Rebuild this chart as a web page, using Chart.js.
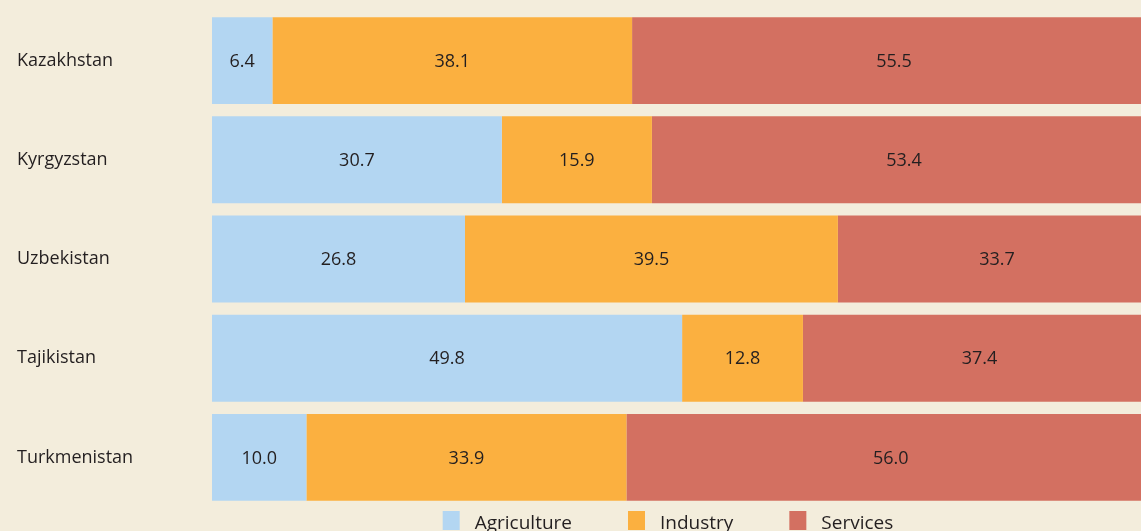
<!DOCTYPE html>
<html>
<head>
<meta charset="utf-8">
<script src="https://cdn.jsdelivr.net/npm/chart.js@4"></script>
<style>
  html, body { margin: 0; padding: 0; background: #f3eddc; overflow: hidden; }
  #wrap { width: 1362px; height: 540px; position: relative; }
</style>
</head>
<body>
<div id="wrap"><canvas id="chart"></canvas></div>
<script>
// Data
const countries = ["Kazakhstan", "Kyrgyzstan", "Uzbekistan", "Tajikistan", "Turkmenistan"]
const agriculture = [6.4, 30.7, 26.8, 49.8, 10.0]
const industry = [38.1, 15.9, 39.5, 12.8, 33.9]
const services = [55.5, 53.4, 33.7, 37.4, 56.0]

const textColor = "#231f20"
const fontFamily = "'Open Sans', sans-serif"

// Draw the value in the middle of each segment
const valueLabels = {
  id: "valueLabels",
  afterDatasetsDraw(chart) {
    const ctx = chart.ctx
    ctx.save()
    ctx.fillStyle = textColor
    ctx.font = "18px " + fontFamily
    ctx.textAlign = "center"
    ctx.textBaseline = "middle"
    chart.data.datasets.forEach((ds, i) => {
      const meta = chart.getDatasetMeta(i)
      meta.data.forEach((bar, j) => {
        const cx = (bar.x + bar.base) / 2
        ctx.fillText(ds.data[j].toFixed(1), cx, bar.y + 1)
      })
    })
    ctx.restore()
  },
}

// Legend under the bars, wider spacing than the built-in one
const bottomLegend = {
  id: "bottomLegend",
  afterDraw(chart) {
    const ctx = chart.ctx
    const boxW = 17
    const boxH = 19
    const textGap = 15
    const itemGap = 56
    ctx.save()
    ctx.font = "19px " + fontFamily
    ctx.textBaseline = "alphabetic"
    ctx.textAlign = "left"

    const items = chart.data.datasets.map((ds) => ({
      label: ds.label,
      color: ds.backgroundColor,
      width: ctx.measureText(ds.label).width,
    }))
    let total = 0
    items.forEach((it, i) => {
      total += boxW + textGap + it.width
      if (i < items.length - 1) total += itemGap
    })

    let x = chart.chartArea.left + 456 - total / 2
    const y = chart.chartArea.bottom + 4
    items.forEach((it) => {
      ctx.fillStyle = it.color
      ctx.fillRect(x, y, boxW, boxH)
      ctx.fillStyle = textColor
      ctx.fillText(it.label, x + boxW + textGap, y + 18)
      x += boxW + textGap + it.width + itemGap
    })
    ctx.restore()
  },
}

new Chart(document.getElementById("chart"), {
  type: "bar",
  data: {
    labels: countries,
    datasets: [
      { label: "Agriculture", data: agriculture, backgroundColor: "#b3d6f2" },
      { label: "Industry", data: industry, backgroundColor: "#fbb040" },
      { label: "Services", data: services, backgroundColor: "#d37061" },
    ],
  },
  options: {
    indexAxis: "y",
    responsive: true,
    maintainAspectRatio: false,
    animation: false,
    datasets: {
      bar: { barPercentage: 0.876, categoryPercentage: 1, borderWidth: 0 },
    },
    layout: { padding: { left: 17, right: 206, top: 11, bottom: 33 } },
    scales: {
      x: {
        stacked: true,
        min: 0,
        max: 100,
        display: false,
      },
      y: {
        stacked: true,
        grid: { display: false },
        border: { display: false },
        ticks: {
          color: textColor,
          font: { family: fontFamily, size: 18 },
          crossAlign: "far",
          padding: 0,
        },
        afterFit(scale) {
          scale.width = 195
        },
      },
    },
    plugins: {
      legend: { display: false },
      tooltip: { enabled: false },
    },
  },
  plugins: [valueLabels, bottomLegend],
})
</script>
</body>
</html>
